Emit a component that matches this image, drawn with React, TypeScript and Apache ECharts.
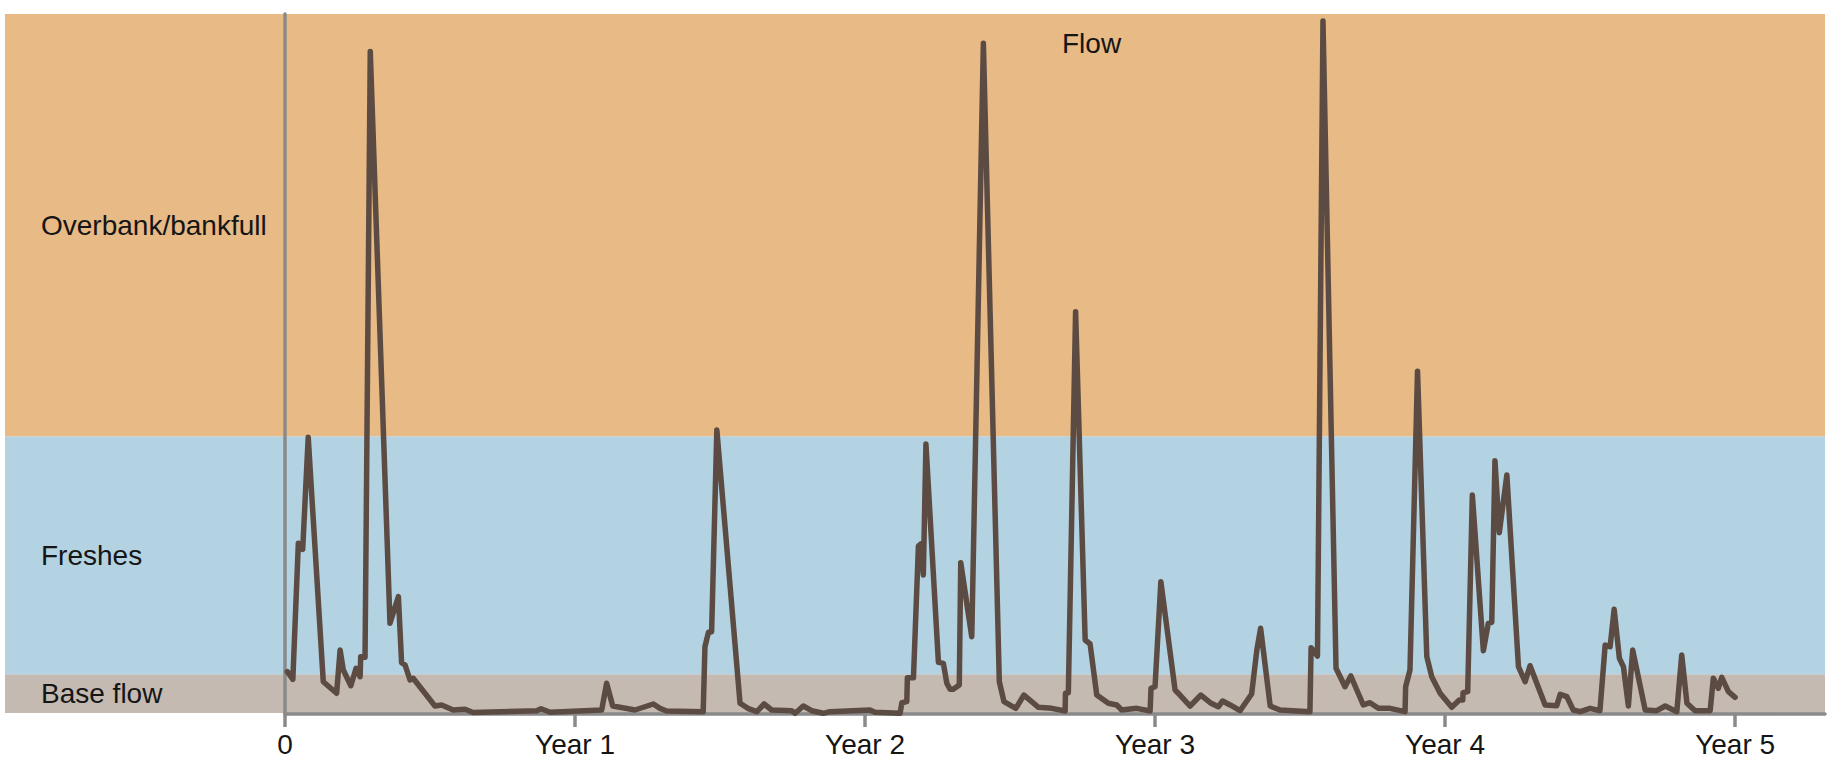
import React, { useEffect, useRef } from "react";
import * as echarts from "echarts";

// Flow hydrograph: x in years, y in relative flow units (0..100)
const flowYears: number[] = [
  0.008, 0.027, 0.046, 0.061, 0.08, 0.132, 0.178, 0.19, 0.201, 0.227, 0.245, 0.259, 0.261, 0.276, 0.294,
  0.362, 0.391, 0.402, 0.414, 0.431, 0.442, 0.517, 0.54, 0.58, 0.621, 0.648, 0.868, 0.883, 0.914, 1.092,
  1.109, 1.13, 1.207, 1.27, 1.293, 1.316, 1.442, 1.448, 1.46, 1.471, 1.489, 1.569, 1.598, 1.627, 1.652,
  1.678, 1.747, 1.759, 1.787, 1.816, 1.856, 1.879, 2.017, 2.034, 2.121, 2.127, 2.144, 2.146, 2.167, 2.184,
  2.192, 2.201, 2.21, 2.253, 2.27, 2.282, 2.293, 2.304, 2.325, 2.33, 2.368, 2.408, 2.463, 2.479, 2.52,
  2.548, 2.598, 2.644, 2.69, 2.691, 2.701, 2.726, 2.759, 2.776, 2.799, 2.839, 2.868, 2.885, 2.937, 2.983,
  2.986, 3.0, 3.02, 3.069, 3.086, 3.121, 3.158, 3.19, 3.218, 3.233, 3.259, 3.293, 3.333, 3.351, 3.364,
  3.397, 3.431, 3.534, 3.538, 3.56, 3.579, 3.624, 3.655, 3.675, 3.718, 3.741, 3.77, 3.81, 3.862, 3.864,
  3.879, 3.905, 3.937, 3.954, 3.983, 4.023, 4.049, 4.061, 4.062, 4.078, 4.094, 4.132, 4.149, 4.161, 4.172,
  4.187, 4.213, 4.253, 4.276, 4.293, 4.345, 4.385, 4.397, 4.42, 4.442, 4.466, 4.5, 4.534, 4.552, 4.569,
  4.583, 4.601, 4.615, 4.632, 4.647, 4.69, 4.73, 4.759, 4.799, 4.816, 4.834, 4.862, 4.914, 4.925, 4.942,
  4.954, 4.977, 5.0,
];
const flowValues: number[] = [
  6.04, 4.96, 24.39, 23.53, 39.53, 4.61, 2.96, 9.14, 6.29, 4.04, 6.53, 5.33, 8.19, 8.1, 94.66,
  12.96, 16.76, 7.33, 7.0, 4.86, 5.1, 1.14, 1.29, 0.57, 0.67, 0.21, 0.47, 0.76, 0.24, 0.57,
  4.39, 1.14, 0.57, 1.43, 0.81, 0.43, 0.33, 9.61, 11.67, 11.76, 40.57, 1.53, 0.76, 0.33, 1.43,
  0.57, 0.47, 0.1, 1.14, 0.47, 0.1, 0.33, 0.57, 0.24, 0.1, 1.61, 1.76, 5.19, 5.19, 24.0,
  24.29, 19.86, 38.57, 7.39, 7.24, 4.39, 3.53, 3.53, 4.14, 21.61, 11.04, 95.83, 4.61, 1.76, 0.81,
  2.71, 0.96, 0.81, 0.43, 2.96, 3.04, 57.46, 10.57, 10.0, 2.71, 1.53, 1.29, 0.57, 0.81, 0.43,
  3.67, 3.9, 18.9, 3.43, 2.71, 1.14, 2.71, 1.61, 1.04, 1.86, 1.29, 0.47, 2.86, 9.14, 12.24,
  1.14, 0.57, 0.33, 9.47, 8.29, 99.0, 6.53, 3.9, 5.43, 1.29, 1.61, 0.81, 0.81, 0.33, 3.9,
  6.29, 48.96, 8.19, 5.33, 2.96, 0.96, 2.0, 2.0, 3.04, 3.19, 31.29, 9.04, 12.96, 13.1, 36.19,
  25.9, 34.14, 6.76, 4.61, 6.9, 1.29, 1.19, 2.81, 2.47, 0.57, 0.33, 0.81, 0.47, 9.86, 9.61,
  14.96, 7.96, 6.76, 1.14, 9.14, 0.57, 0.47, 1.14, 0.33, 8.43, 1.53, 0.47, 0.47, 5.1, 3.67,
  5.24, 3.19, 2.39,
];

// Flow bands (lower bound, upper bound)
const bandNames: string[] = ["Base flow", "Freshes", "Overbank/bankfull"];
const bandLower: number[] = [0, 5.55, 39.6];
const bandUpper: number[] = [5.55, 39.6, 100];
const bandColors: string[] = ["#C4BAB1", "#B4D3E2", "#E7BA86"];

const xTickValues: number[] = [0, 1, 2, 3, 4, 5];
const xTickLabels: string[] = ["0", "Year 1", "Year 2", "Year 3", "Year 4", "Year 5"];

const FONT = "'Liberation Sans', Arial, Helvetica, sans-serif";
const TEXT_COLOR = "#151515";
const AXIS_COLOR = "#8a8a8a";

export default function App() {
  const ref = useRef<HTMLDivElement>(null);

  useEffect(() => {
    if (!ref.current) return;
    const chart = echarts.init(ref.current, undefined, { renderer: "svg" });
    const flowData = flowYears.map((x, i) => [x, flowValues[i]]);

    chart.setOption({
      animation: false,
      title: {
        text: "Flow",
        left: 1062,
        top: 29,
        padding: 0,
        textStyle: { fontFamily: FONT, fontSize: 28, fontWeight: "normal", color: TEXT_COLOR },
      },
      grid: [
        { left: 5, right: 6, top: 14, bottom: 47 },
        { left: 285, right: 6, top: 14, bottom: 46 },
      ],
      xAxis: [
        { gridIndex: 0, type: "value", min: 0, max: 1, show: false },
        {
          gridIndex: 1,
          type: "value",
          min: 0,
          max: 5.31,
          z: 10,
          splitLine: { show: false },
          axisLine: { show: true, onZero: false, lineStyle: { color: AXIS_COLOR, width: 3.5 } },
          axisTick: {
            show: true,
            customValues: xTickValues,
            inside: false,
            length: 13,
            lineStyle: { color: AXIS_COLOR, width: 3.5 },
          },
          axisLabel: {
            customValues: xTickValues,
            margin: 16,
            fontFamily: FONT,
            fontSize: 28,
            color: TEXT_COLOR,
            formatter: (v: number) => {
              const idx = xTickValues.indexOf(Math.round(v));
              return idx >= 0 ? xTickLabels[idx] : "";
            },
          },
        },
      ],
      yAxis: [
        { gridIndex: 0, type: "value", min: 0, max: 100, show: false },
        {
          gridIndex: 1,
          type: "value",
          min: 0,
          max: 100,
          z: 10,
          splitLine: { show: false },
          axisTick: { show: false },
          axisLabel: { show: false },
          axisLine: { show: true, onZero: false, lineStyle: { color: AXIS_COLOR, width: 3.5 } },
        },
      ],
      series: [
        {
          type: "line",
          xAxisIndex: 0,
          yAxisIndex: 0,
          data: [],
          silent: true,
          z: 0,
          markArea: {
            silent: true,
            z: 0,
            label: {
              show: true,
              position: "insideLeft",
              distance: 36,
              fontFamily: FONT,
              fontSize: 28,
              color: TEXT_COLOR,
            },
            data: bandNames.map((name, i) => [
              { name, yAxis: bandLower[i], itemStyle: { color: bandColors[i], opacity: 1 } },
              { yAxis: bandUpper[i] },
            ]),
          },
        },
        {
          name: "Flow",
          type: "line",
          xAxisIndex: 1,
          yAxisIndex: 1,
          data: flowData,
          showSymbol: false,
          symbol: "none",
          clip: false,
          lineStyle: { color: "#5C4B43", width: 5.5, cap: "round", join: "round" },
          z: 20,
        },
      ],
    });

    return () => chart.dispose();
  }, []);

  return (
    <div
      ref={ref}
      style={{ position: "fixed", left: 0, top: 0, width: 1831, height: 760, background: "#ffffff" }}
    />
  );
}
